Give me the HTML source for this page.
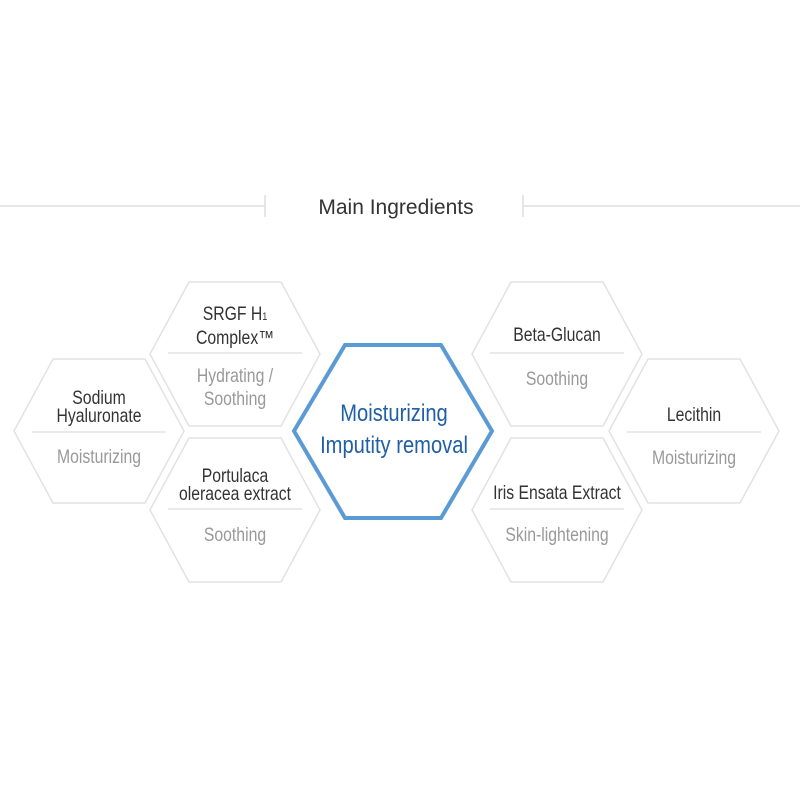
<!DOCTYPE html>
<html><head><meta charset="utf-8"><style>
html,body{margin:0;padding:0;background:#fff;width:800px;height:800px;overflow:hidden}
text{font-family:"Liberation Sans",sans-serif;text-anchor:middle}
.d{fill:#333;font-size:19px}
.g{fill:#999;font-size:19px}
</style></head><body>
<svg width="800" height="800" viewBox="0 0 800 800" xmlns="http://www.w3.org/2000/svg">
<line x1="0" y1="206" x2="265" y2="206" stroke="#ddd" stroke-width="1.5"/>
<line x1="265" y1="195" x2="265" y2="217" stroke="#ddd" stroke-width="1.5"/>
<line x1="523" y1="206" x2="800" y2="206" stroke="#ddd" stroke-width="1.5"/>
<line x1="523" y1="195" x2="523" y2="217" stroke="#ddd" stroke-width="1.5"/>
<text x="396" y="214" style="font-size:21px;fill:#333">Main Ingredients</text>
<g fill="#fff" stroke="#e2e2e2" stroke-width="1.5">
<polygon points="14,431 53,359 145,359 184,431 145,503 53,503"/>
<polygon points="150,354 189,282 281,282 320,354 281,426 189,426"/>
<polygon points="150,510 189,438 281,438 320,510 281,582 189,582"/>
<polygon points="472,354 511,282 603,282 642,354 603,426 511,426"/>
<polygon points="472,510 511,438 603,438 642,510 603,582 511,582"/>
<polygon points="609,431 648,359 740,359 779,431 740,503 648,503"/>
</g>
<g stroke="#ddd" stroke-width="1.2">
<line x1="32" y1="432" x2="166" y2="432"/>
<line x1="168" y1="353" x2="302" y2="353"/>
<line x1="168" y1="509" x2="302" y2="509"/>
<line x1="490" y1="353" x2="624" y2="353"/>
<line x1="490" y1="509" x2="624" y2="509"/>
<line x1="627" y1="432" x2="761" y2="432"/>
</g>
<polygon points="294,431 345,345 441,345 492,431 441,518 345,518" fill="#fff" stroke="#5b9bd5" stroke-width="4"/>
<g transform="translate(99 0) scale(0.83 1)">
<text class="d" x="0" y="404">Sodium</text>
<text class="d" x="0" y="422">Hyaluronate</text>
<text class="g" x="0" y="463">Moisturizing</text>
</g>
<g transform="translate(235 0) scale(0.83 1)">
<text class="d" x="0" y="320">SRGF H<tspan font-size="11">1</tspan></text>
<text class="d" x="0" y="344">Complex™</text>
<text class="g" x="0" y="382">Hydrating /</text>
<text class="g" x="0" y="405">Soothing</text>
<text class="d" x="0" y="482">Portulaca</text>
<text class="d" x="0" y="500">oleracea extract</text>
<text class="g" x="0" y="541">Soothing</text>
</g>
<g transform="translate(557 0) scale(0.83 1)">
<text class="d" x="0" y="341">Beta-Glucan</text>
<text class="g" x="0" y="385">Soothing</text>
<text class="d" x="0" y="499">Iris Ensata Extract</text>
<text class="g" x="0" y="541">Skin-lightening</text>
</g>
<g transform="translate(694 0) scale(0.83 1)">
<text class="d" x="0" y="421">Lecithin</text>
<text class="g" x="0" y="464">Moisturizing</text>
</g>
<g transform="translate(394 0) scale(0.84 1)">
<text x="0" y="421" style="font-size:24px;fill:#1f5fa8">Moisturizing</text>
<text x="0" y="453" style="font-size:24px;fill:#1f5fa8">Imputity removal</text>
</g>
</svg>
</body></html>
